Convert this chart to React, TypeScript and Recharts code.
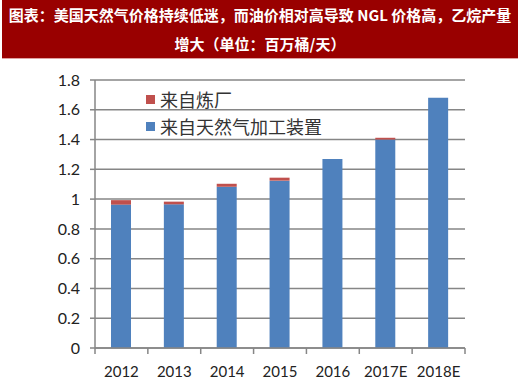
import React from "react";
import { BarChart, Bar, XAxis, YAxis, CartesianGrid } from "recharts";

const categories = ["2012", "2013", "2014", "2015", "2016", "2017E", "2018E"];
const gasPlant = [0.963, 0.965, 1.083, 1.124, 1.27, 1.4, 1.68];
const refinery = [0.03, 0.018, 0.02, 0.02, 0, 0.012, 0];
const yTicks = [0, 0.2, 0.4, 0.6, 0.8, 1, 1.2, 1.4, 1.6, 1.8];
const seriesNames = ["来自炼厂", "来自天然气加工装置"];
const titleLines = [
  "图表：美国天然气价格持续低迷，而油价相对高导致 NGL 价格高，乙烷产量",
  "增大（单位：百万桶/天）",
];

const data = categories.map((c, i) => ({ name: c, gasPlant: gasPlant[i], refinery: refinery[i] }));

const BLUE = "#4F81BD";
const RED = "#C0504D";
const GRID = "#868686";
const NUM_FONT = "Lato, 'Open Sans', sans-serif";
const CJK_FONT = "'Noto Sans CJK SC', sans-serif";

const XTick = (props: any) => {
  const { x, y, payload, index } = props;
  const half = payload && payload.offset ? payload.offset : 26.43;
  const last = index === categories.length - 1;
  return (
    <g>
      <line x1={x - half} x2={x - half} y1={y} y2={y + 6} stroke={GRID} strokeWidth={1.5} />
      {last && <line x1={x + half} x2={x + half} y1={y} y2={y + 6} stroke={GRID} strokeWidth={1.5} />}
      <text x={x} y={y + 23} textAnchor="middle" dominantBaseline="central" fontSize={15} fill="#222" fontFamily={NUM_FONT}>
        {payload.value}
      </text>
    </g>
  );
};

export default function App() {
  return (
    <div style={{ position: "absolute", left: 0, top: 0, width: 520, height: 387, background: "#fff" }}>
      <div
        style={{
          position: "absolute",
          left: 2,
          top: 0,
          width: 516,
          height: 58,
          background: "#990000",
          color: "#fff",
          fontFamily: CJK_FONT,
          fontWeight: 700,
          fontSize: 15,
          lineHeight: "30px",
          textAlign: "center",
          whiteSpace: "nowrap",
          borderBottom: "1px solid #e0a0a0",
        }}
      >
        <div style={{ height: 29 }}>{titleLines[0]}</div>
        <div style={{ height: 29 }}>{titleLines[1]}</div>
      </div>
      <div style={{ position: "absolute", left: 0, top: 0 }}>
        <BarChart width={520} height={387} data={data} margin={{ top: 80, right: 55, bottom: 0, left: 0 }} barCategoryGap={0}>
          <CartesianGrid vertical={false} stroke={GRID} strokeWidth={1.5} />
          <XAxis
            dataKey="name"
            height={39}
            tickSize={0}
            tickMargin={0}
            tickLine={false}
            axisLine={{ stroke: GRID, strokeWidth: 1.5 }}
            tick={<XTick />}
            interval={0}
          />
          <YAxis
            width={95}
            domain={[0, 1.8]}
            ticks={yTicks}
            tickSize={5}
            tickMargin={10}
            tickLine={{ stroke: GRID, strokeWidth: 1.5 }}
            axisLine={{ stroke: GRID, strokeWidth: 1.5 }}
            tick={{ fontSize: 16, fill: "#222", fontFamily: NUM_FONT }}
            tickFormatter={(v: number) => String(v)}
          />
          <Bar dataKey="gasPlant" stackId="a" fill={BLUE} barSize={20} isAnimationActive={false} />
          <Bar dataKey="refinery" stackId="a" fill={RED} barSize={20} isAnimationActive={false} />
        </BarChart>
      </div>
      <div style={{ position: "absolute", left: 146, top: 86, fontFamily: CJK_FONT, fontSize: 18, color: "#333" }}>
        {[RED, BLUE].map((c, i) => (
          <div key={i} style={{ display: "flex", alignItems: "center", height: 27 }}>
            <span style={{ display: "inline-block", width: 9, height: 9, background: c, marginRight: 5 }} />
            <span style={{ lineHeight: "27px" }}>{seriesNames[i]}</span>
          </div>
        ))}
      </div>
    </div>
  );
}
